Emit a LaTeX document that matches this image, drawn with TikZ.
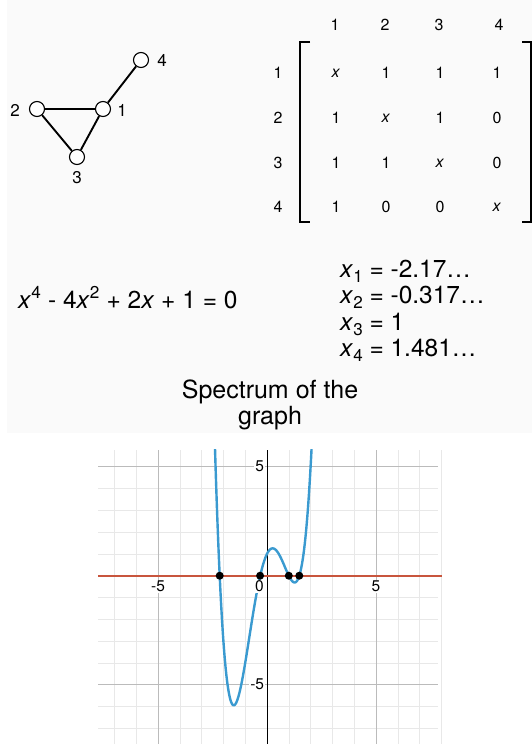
\documentclass[tikz,border=0pt]{standalone}
\usepackage{fontspec}
\setmainfont{TeX Gyre Heros}
\definecolor{bggray}{HTML}{FAFAFA}
\definecolor{curveblue}{HTML}{3A9AD0}
\definecolor{axisred}{HTML}{C8553D}
\definecolor{minorgrid}{HTML}{E8E8E8}
\definecolor{majorgrid}{HTML}{BBBBBB}
\newcommand{\lowsub}[1]{\raisebox{-0.42ex}{\fontsize{17}{19}\selectfont #1}}
\tikzset{
  vtx/.style={circle,draw,line width=1.1pt,fill=white,minimum size=15pt,inner sep=0pt},
  vlabel/.style={font=\fontsize{17}{20}\selectfont,inner sep=0pt},
  edge/.style={line width=1.9pt},
  mtx/.style={font=\fontsize{16}{19}\selectfont,inner sep=0pt,anchor=center},
  bigtext/.style={font=\fontsize{24.5}{28}\selectfont,inner sep=0pt,anchor=base west},
  titletext/.style={font=\fontsize{25}{29}\selectfont,inner sep=0pt,anchor=base},
  ticklabel/.style={font=\fontsize{15.5}{18}\selectfont,inner sep=0pt},
  bracket/.style={line width=1.1pt},
  rootdot/.style={circle,fill=black,minimum size=8pt,inner sep=0pt},
}
\begin{document}
\begin{tikzpicture}[x=1pt,y=-1pt]
\useasboundingbox (0,0) rectangle (532,744);
\fill[bggray] (7,0) rectangle (532,433);
% graph
\node[vtx] (v1) at (103,109) {};
\node[vtx] (v2) at (37,109) {};
\node[vtx] (v3) at (77,157) {};
\node[vtx] (v4) at (141,60) {};
\draw[edge] (v1) -- (v2);
\draw[edge] (v2) -- (v3);
\draw[edge] (v3) -- (v1);
\draw[edge] (v1) -- (v4);
\node[vlabel] (l1) at (122,110) {1};
\node[vlabel] (l2) at (15,110) {2};
\node[vlabel] (l3) at (77,178) {3};
\node[vlabel] (l4) at (162,60) {4};
% matrix
\foreach \c/\x in {1/335,2/385,3/439,4/499} {\node[mtx] (h\c) at (\x,25) {\c};}
\foreach \r/\y in {1/73,2/118,3/163,4/207} {\node[mtx] (r\r) at (278,\y) {\r};}
\node[mtx] (m11) at (336,73) {\textit{x}};
\node[mtx] (m12) at (386,73) {1};
\node[mtx] (m13) at (440,73) {1};
\node[mtx] (m14) at (497,73) {1};
\node[mtx] (m21) at (336,118) {1};
\node[mtx] (m22) at (386,118) {\textit{x}};
\node[mtx] (m23) at (440,118) {1};
\node[mtx] (m24) at (497,118) {0};
\node[mtx] (m31) at (336,163) {1};
\node[mtx] (m32) at (386,163) {1};
\node[mtx] (m33) at (440,163) {\textit{x}};
\node[mtx] (m34) at (497,163) {0};
\node[mtx] (m41) at (336,207) {1};
\node[mtx] (m42) at (386,207) {0};
\node[mtx] (m43) at (440,207) {0};
\node[mtx] (m44) at (497,207) {\textit{x}};
\draw[bracket] (310,42) -- (300,42) -- (300,222) -- (310,222);
\draw[bracket] (522,42) -- (531,42) -- (531,222) -- (522,222);
% equation
\node[bigtext] (eq) at (18,308) {\textit{x}\textsuperscript{4} - 4\textit{x}\textsuperscript{2} + 2\textit{x} + 1 = 0};
\node[bigtext] (x1) at (340,277) {\textit{x}\lowsub{1} = -2.17\ldots};
\node[bigtext] (x2) at (340,303.5) {\textit{x}\lowsub{2} = -0.317\ldots};
\node[bigtext] (x3) at (340,330) {\textit{x}\lowsub{3} = 1};
\node[bigtext] (x4) at (340,356) {\textit{x}\lowsub{4} = 1.481\ldots};
\node[titletext] (t1) at (270,398) {Spectrum of the};
\node[titletext] (t2) at (270,424) {graph};
% plot
\begin{scope}[shift={(267,575.7)},x=21.8pt,y=21.8pt]
  \begin{scope}
  \clip (-7.75,-7.75) rectangle (8.1,5.77);
  \foreach \i in {-7,...,8} {\draw[minorgrid,line width=0.6pt] (\i,-7.75) -- (\i,5.77);}
  \foreach \j in {-7,...,5} {\draw[minorgrid,line width=0.6pt] (-7.75,\j) -- (7.85,\j);}
  \foreach \i in {-5,5} {\draw[majorgrid,line width=0.7pt] (\i,-7.75) -- (\i,5.77);}
  \foreach \j in {-5,5} {\draw[majorgrid,line width=0.7pt] (-7.75,\j) -- (7.85,\j);}
  \draw[black,line width=0.8pt] (0,-7.75) -- (0,5.77);
  \draw[axisred,line width=2.4pt] (-7.75,0) -- (8.05,0);
  \draw[curveblue,line width=2.4pt,smooth,samples=300,domain=-2.45:2.1] plot (\x,{\x*\x*\x*\x-4*\x*\x+2*\x+1});
  \end{scope}
  \node[rootdot] (d1) at (-2.17,0) {};
  \node[rootdot] (d2) at (-0.317,0) {};
  \node[rootdot] (d3) at (1,0) {};
  \node[rootdot] (d4) at (1.481,0) {};
  \node[ticklabel,fill=white,inner sep=1pt] (xm5) at (-5,-0.5) {-5};
  \node[ticklabel,fill=white,inner sep=1pt] (xp5) at (5,-0.5) {5};
  \node[ticklabel,fill=white,inner sep=1pt] (x0) at (-0.35,-0.5) {0};
  \node[ticklabel,fill=white,inner sep=1pt,anchor=east] (yp5) at (-0.08,5) {5};
  \node[ticklabel,fill=white,inner sep=1pt,anchor=east] (ym5) at (-0.08,-5) {-5};
\end{scope}
\end{tikzpicture}
\end{document}
